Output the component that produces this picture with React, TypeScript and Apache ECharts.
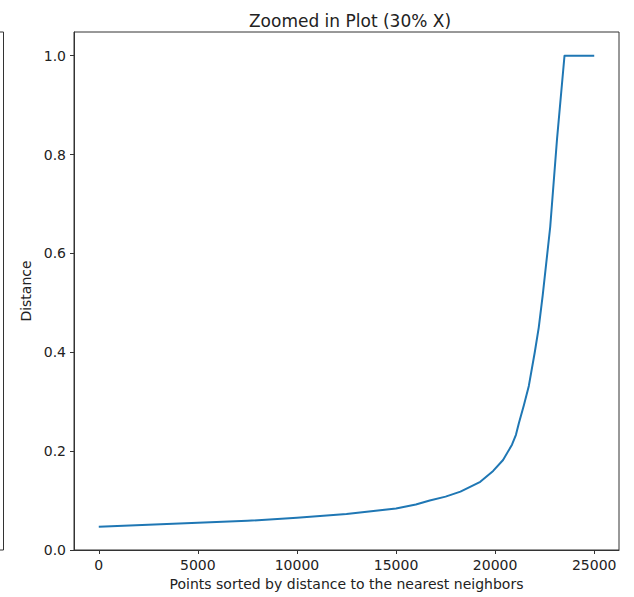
import React, { useEffect, useRef } from "react";
import * as echarts from "echarts";

const xValues = [0, 2500, 5000, 7500, 10000, 12500, 15000, 16000, 16700, 17500, 18250, 19250, 19900, 20400, 20850, 21050, 21200, 21450, 21700, 22000, 22200, 22400, 22780, 23120, 23500, 25000];
const distances = [0.047, 0.051, 0.055, 0.059, 0.065, 0.073, 0.084, 0.092, 0.1, 0.108, 0.118, 0.138, 0.16, 0.182, 0.213, 0.233, 0.257, 0.293, 0.332, 0.4, 0.45, 0.515, 0.654, 0.83, 1.0, 1.0];
const xTicks = [0, 5000, 10000, 15000, 20000, 25000];
const yTicks = [0, 0.2, 0.4, 0.6, 0.8, 1.0];

const FONT = "DejaVu Sans";
const TXT = "#222";

export default function App() {
  const ref = useRef<HTMLDivElement>(null);
  useEffect(() => {
    const chart = echarts.init(ref.current!, null, { renderer: "svg" });
    chart.setOption({
      animation: false,
      backgroundColor: "#fff",
      title: {
        text: "Zoomed in Plot (30% X)",
        left: 345,
        top: 7,
        textAlign: "center",
        textStyle: { fontFamily: FONT, fontSize: 17, fontWeight: "normal", color: TXT },
      },
      grid: {
        left: 74,
        right: 15,
        top: 32,
        bottom: 47,
        show: true,
        borderColor: "#333",
        borderWidth: 1,
        backgroundColor: "transparent",
      },
      xAxis: {
        type: "value",
        min: -1250,
        max: 26250,
        name: "Points sorted by distance to the nearest neighbors",
        nameLocation: "middle",
        nameGap: 25,
        nameTextStyle: { fontFamily: FONT, fontSize: 14, color: TXT },
        axisLine: { show: true, onZero: false, lineStyle: { color: "#333", width: 1 } },
        axisTick: { show: true, length: 4, customValues: xTicks, lineStyle: { color: "#333" } },
        axisLabel: {
          customValues: xTicks,
          margin: 8,
          fontFamily: FONT,
          fontSize: 14,
          color: TXT,
          formatter: (v: number) => String(v),
        },
        splitLine: { show: false },
      },
      yAxis: {
        type: "value",
        min: 0,
        max: 1.048,
        name: "Distance",
        nameLocation: "middle",
        nameGap: 36,
        nameTextStyle: { fontFamily: FONT, fontSize: 14, color: TXT },
        axisLine: { show: true, onZero: false, lineStyle: { color: "#333", width: 1 } },
        axisTick: { show: true, length: 4, customValues: yTicks, lineStyle: { color: "#333" } },
        axisLabel: {
          customValues: yTicks,
          margin: 8,
          fontFamily: FONT,
          fontSize: 14,
          color: TXT,
          formatter: (v: number) => v.toFixed(1),
        },
        splitLine: { show: false },
      },
      graphic: [
        {
          type: "polyline",
          shape: { points: [[0, 32], [3.5, 32], [3.5, 550], [0, 550]] },
          style: { stroke: "#333", lineWidth: 1, fill: null },
        },
      ],
      series: [
        {
          type: "line",
          data: xValues.map((x, i) => [x, distances[i]]),
          showSymbol: false,
          smooth: false,
          lineStyle: { color: "#1f77b4", width: 2, join: "round" },
        },
      ],
    });
    return () => chart.dispose();
  }, []);
  return <div ref={ref} style={{ position: "absolute", left: 0, top: 0, width: 634, height: 597 }} />;
}
